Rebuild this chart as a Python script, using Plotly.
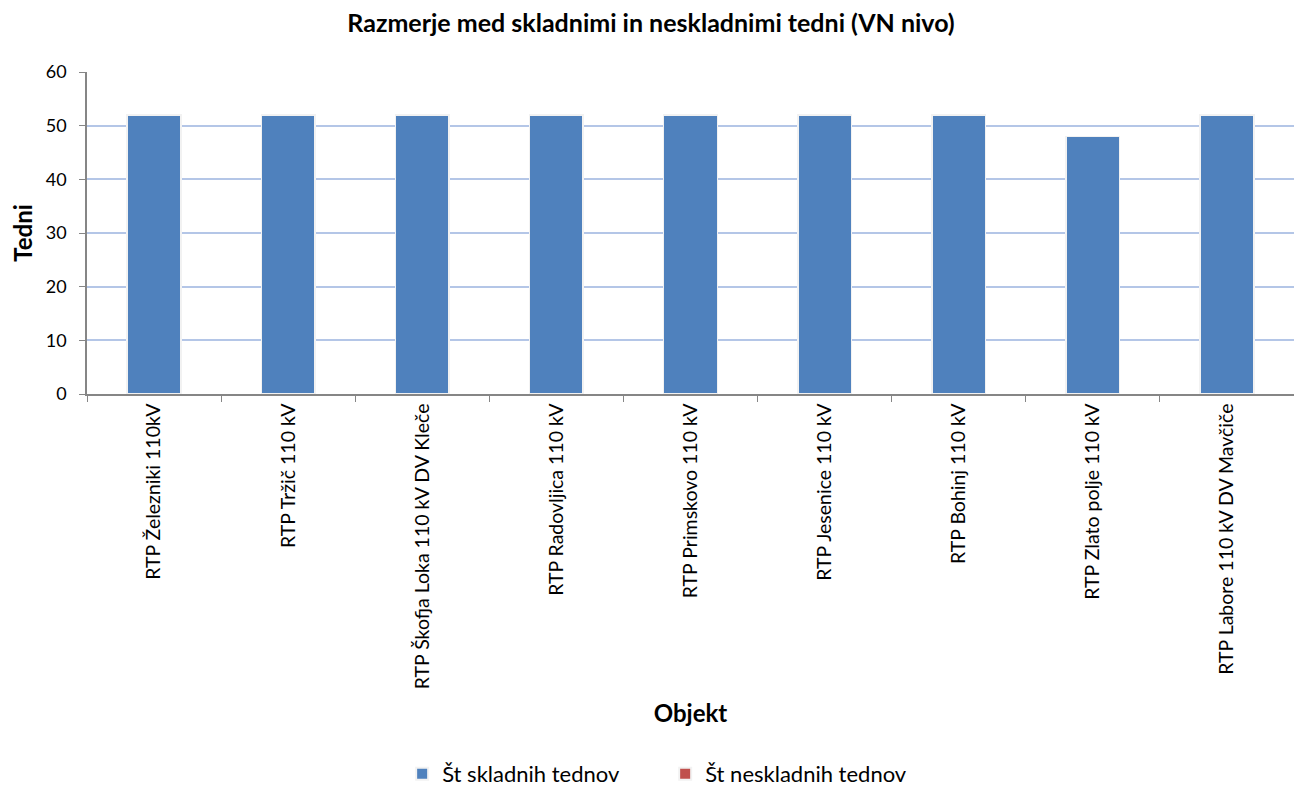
import plotly.graph_objects as go

categories = [
    "RTP Železniki 110kV",
    "RTP Tržič 110 kV",
    "RTP Škofja Loka 110 kV DV Kleče",
    "RTP Radovljica 110 kV",
    "RTP Primskovo 110 kV",
    "RTP Jesenice 110 kV",
    "RTP Bohinj 110 kV",
    "RTP Zlato polje 110 kV",
    "RTP Labore 110 kV DV Mavčiče",
]
skladni = [52, 52, 52, 52, 52, 52, 52, 48, 52]
neskladni = [0, 0, 0, 0, 0, 0, 0, 0, 0]

FONT = "Lato, 'Open Sans', sans-serif"

fig = go.Figure()
fig.add_trace(go.Bar(
    x=categories, y=skladni, name="Št skladnih tednov",
    marker=dict(color="#4F81BD", line=dict(color="#F2F2F2", width=1.5)),
))
fig.add_trace(go.Bar(
    x=categories, y=neskladni, name="Št neskladnih tednov",
    marker=dict(color="#C0504D", line=dict(color="#F2F2F2", width=1.5)),
))

fig.update_layout(
    barmode="stack",
    bargap=0.6,
    width=1286, height=780,
    paper_bgcolor="white", plot_bgcolor="white",
    margin=dict(l=79, r=0, t=64, b=394, autoexpand=False),
    font=dict(family=FONT, size=18, color="#000000"),
    title=dict(
        text="<b>Razmerje med skladnimi in neskladnimi tedni (VN nivo)</b>",
        x=0.5, xanchor="center", y=0.981, yanchor="middle",
        font=dict(size=25, family=FONT, color="#000000"),
    ),
    legend=dict(
        orientation="h", x=0.479, xanchor="center", y=-1.18, yanchor="middle",
        font=dict(size=22, family=FONT),
        entrywidth=218, entrywidthmode="pixels",
        itemsizing="constant", traceorder="normal",
    ),
    xaxis=dict(
        type="category",
        tickangle=-90,
        tickson="boundaries",
        ticks="outside", ticklen=6, tickcolor="#868686",
        showline=True, linecolor="#868686", linewidth=1.5,
        showgrid=False,
        automargin=False,
        tickfont=dict(size=19.5),
        title=dict(text="<b>Objekt</b>", font=dict(size=24), standoff=17),
    ),
    yaxis=dict(
        range=[0, 60], dtick=10,
        ticks="outside", ticklen=6, tickcolor="#868686",
        showline=True, linecolor="#868686", linewidth=1.5,
        showgrid=True, gridcolor="#B4C6E7", gridwidth=1.5,
        zeroline=False,
        automargin=False,
        ticklabelstandoff=9,
        tickfont=dict(size=18),
        title=dict(text="<b>Tedni</b>", font=dict(size=24), standoff=30),
    ),
)

fig.write_html("out.html")
